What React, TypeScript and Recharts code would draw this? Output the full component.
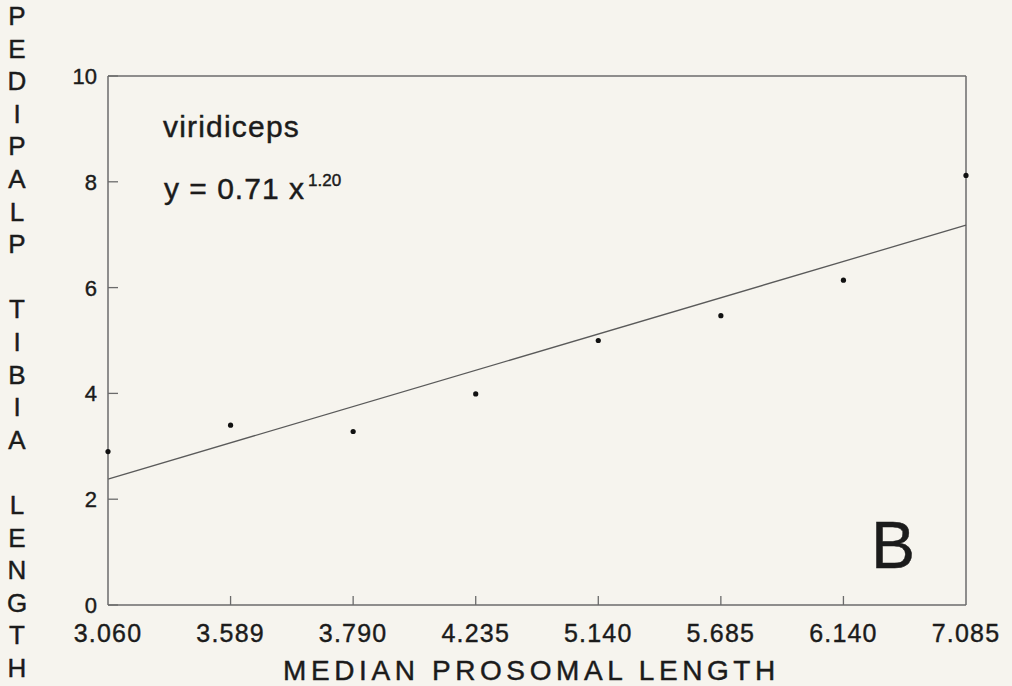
import * as React from "react"
import { ComposedChart, Line, ReferenceLine, XAxis, YAxis } from "recharts"

// median prosomal length classes (categorical, equally spaced)
const lengths = ["3.060", "3.589", "3.790", "4.235", "5.140", "5.685", "6.140", "7.085"]
// pedipalp tibia length per class
const tibia = [2.9, 3.4, 3.28, 3.99, 5.0, 5.47, 6.14, 8.12]
// fitted line, read at its two ends
const fitEnds = [2.38, null, null, null, null, null, null, 7.18]
const yTicks = [0, 2, 4, 6, 8, 10]

const yLabel = "PEDIPALP TIBIA LENGTH"

const data = lengths.map((len, i) => ({ len, tibia: tibia[i], fit: fitEnds[i] }))

const FONT = "'Liberation Sans', Arial, Helvetica, sans-serif"
const INK = "#1b1b1b"
const AXIS = "#6b6b6b"
const BG = "#f6f4ee"

function YTick(props: any) {
  const { x, y, payload } = props
  return (
    <g>
      <line x1={x} x2={x + 10} y1={y} y2={y} stroke={AXIS} strokeWidth={1.3} />
      <text x={x - 11} y={y + 8} textAnchor="end" fontSize={22} fill={INK} stroke={INK} strokeWidth={0.4} fontFamily={FONT}>
        {payload.value}
      </text>
    </g>
  )
}

function XTick(props: any) {
  const { x, y, payload, index } = props
  const last = index === lengths.length - 1
  return (
    <g>
      {index > 0 && !last && (
        <line x1={x} x2={x} y1={y} y2={y - 9} stroke={AXIS} strokeWidth={1.3} />
      )}
      <text x={x} y={y + 37} textAnchor="middle" fontSize={25} letterSpacing={1.2} fill={INK} stroke={INK} strokeWidth={0.4} fontFamily={FONT}>
        {payload.value}
      </text>
    </g>
  )
}

export default function App() {
  const letters = yLabel.split("")
  return (
    <div style={{ position: "absolute", left: 0, top: 0, width: 1012, height: 686, background: BG }}>
      <ComposedChart
        width={1012}
        height={686}
        data={data}
        margin={{ top: 76, right: 46, bottom: 0, left: 8 }}
      >
        <XAxis
          dataKey="len"
          height={81}
          padding={{ left: 0, right: 0 }}
          axisLine={{ stroke: AXIS, strokeWidth: 1.5 }}
          tickLine={false}
          tickSize={0}
          tickMargin={0}
          interval={0}
          tick={<XTick />}
        />
        <YAxis
          width={100}
          domain={[0, 10]}
          ticks={yTicks}
          axisLine={{ stroke: AXIS, strokeWidth: 1.5 }}
          tickLine={false}
          tickSize={0}
          tickMargin={0}
          tick={<YTick />}
        />
        <ReferenceLine y={10} stroke={AXIS} strokeWidth={1.5} />
        <ReferenceLine x={lengths[lengths.length - 1]} stroke={AXIS} strokeWidth={1.5} />
        <Line
          dataKey="fit"
          stroke="#5a5a5a"
          strokeWidth={1.3}
          dot={false}
          connectNulls
          isAnimationActive={false}
        />
        <Line
          dataKey="tibia"
          stroke="none"
          dot={{ r: 2.6, fill: "#111", stroke: "none" }}
          activeDot={false}
          isAnimationActive={false}
        />
      </ComposedChart>
      <svg
        width={1012}
        height={686}
        style={{ position: "absolute", left: 0, top: 0, pointerEvents: "none" }}
        fontFamily={FONT}
        fill={INK}
        stroke={INK}
        strokeWidth={0.45}
      >
        {letters.map((ch, i) =>
          ch === " " ? null : (
            <text key={i} x={17} y={25 + i * 32.6} textAnchor="middle" fontSize={26}>
              {ch}
            </text>
          )
        )}
        <text x={163} y={137} fontSize={30} letterSpacing={1.2}>viridiceps</text>
        <text x={164} y={199} fontSize={30} letterSpacing={1}>
          y = 0.71 x
        </text>
        <text x={308} y={186} fontSize={17}>1.20</text>
        <text x={871} y={568} fontSize={66}>B</text>
        <text x={283} y={680} fontSize={28} letterSpacing={4.6}>MEDIAN PROSOMAL LENGTH</text>
      </svg>
    </div>
  )
}
